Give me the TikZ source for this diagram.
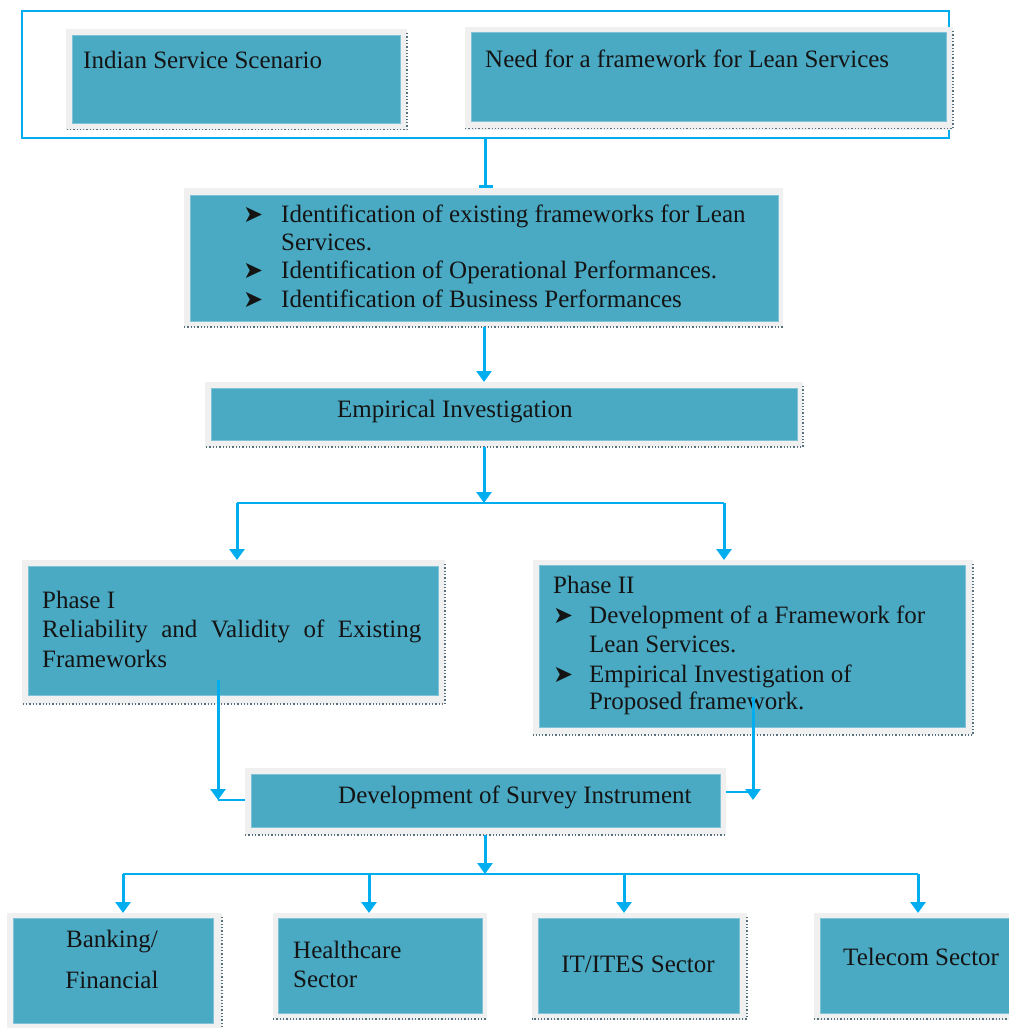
\documentclass[tikz,border=0pt]{standalone}
\usepackage{fontspec}
\setmainfont{Liberation Serif}
\newfontfamily\dingfont{DejaVu Sans}
\usetikzlibrary{arrows.meta,fit}

\definecolor{panelteal}{HTML}{4AAAC4}
\definecolor{panelrim}{HTML}{F0F0F0}
\definecolor{shadowdots}{HTML}{56707E}
\definecolor{linkblue}{HTML}{00AEEF}
\definecolor{inktext}{HTML}{141414}

\tikzset{
  rim/.style={fill=panelrim, inner sep=0pt, outer sep=0pt},
  core/.style={fill=panelteal, draw=panelteal!70!white, line width=0.8pt, inner sep=0pt},
  dots/.style={draw=shadowdots, line width=1.3pt, dotted},
  lbl/.style={inner sep=0pt, text=inktext, font=\fontsize{25}{29}\selectfont, anchor=base west},
  bul/.style={inner sep=0pt, text=inktext, font=\dingfont\fontsize{24}{24}\selectfont, anchor=base west},
  link/.style={draw=linkblue, line width=3pt},
  branch/.style={draw=linkblue, line width=2.2pt},
  arrowed/.style={-{Triangle[width=15pt,length=11pt]}},
}

% panel: name, rim corners, teal corners
\newcommand\leanpanel[9]{%
  \node[rim, fit={(#2,#3)(#4,#5)}] (#1) {};
  \node[core, fit={(#6,#7)(#8,#9)}] (#1-in) {};}

\begin{document}
\begin{tikzpicture}[x=1pt, y=-1pt]
\useasboundingbox (0,0) rectangle (1009,1028);
\clip (0,0) rectangle (1009,1028);

% outer frame round the two opening panels
\node[draw=linkblue, line width=2.2pt, inner sep=0pt, fit={(22,11)(949,138)}] (top) {};

% opening panels
\leanpanel{scen}{66}{29}{407}{130}{72}{35}{400}{123}
\draw[dots] (407,33) -- (407,129.5) -- (66,129.5);
\node[lbl] (scen-t) at (83,68) {Indian Service Scenario};

\leanpanel{need}{465}{27}{953}{130}{471}{32}{946}{121}
\draw[dots] (953,31) -- (953,128.5) -- (465,128.5);
\node[lbl] (need-t) at (485,67) {Need for a framework for Lean Services};

% identification panel
\leanpanel{ident}{184}{188}{783}{327}{190}{195}{778}{321}
\draw[dots] (184,327) -- (783,327);
\node[bul] (ib1) at (243,222) {➤};
\node[lbl] (it1) at (281,222) {Identification of existing frameworks for Lean};
\node[lbl] (it2) at (281,250) {Services.};
\node[bul] (ib2) at (243,278) {➤};
\node[lbl] (it3) at (281,278) {Identification of Operational Performances.};
\node[bul] (ib3) at (243,307) {➤};
\node[lbl] (it4) at (281,307) {Identification of Business Performances};

% empirical investigation
\leanpanel{emp}{205}{382}{803}{447}{211}{388}{797}{440}
\draw[dots] (803,386) -- (803,447) -- (205,447);
\node[lbl] (emp-t) at (337,417) {Empirical Investigation};

% phase I
\leanpanel{ph1}{22}{560}{445}{704}{28}{566}{438}{695}
\draw[dots] (445,564) -- (445,704) -- (22,704);
\node[lbl] (ph1-a) at (42,608) {Phase I};
\node[lbl] (ph1-b) at (42,637) {\makebox[379pt][s]{Reliability and Validity of Existing}};
\node[lbl] (ph1-c) at (42,667) {Frameworks};

% phase II
\leanpanel{ph2}{533}{560}{973}{735}{539}{565}{965}{727}
\draw[dots] (973,564) -- (973,735) -- (533,735);
\node[lbl] (ph2-a) at (553,593) {Phase II};
\node[bul] (pb1) at (553,623) {➤};
\node[lbl] (ph2-b) at (589,623) {Development of a Framework for};
\node[lbl] (ph2-c) at (589,652) {Lean Services.};
\node[bul] (pb2) at (553,682) {➤};
\node[lbl] (ph2-d) at (589,682) {Empirical Investigation of};
\node[lbl] (ph2-e) at (589,709) {Proposed framework.};

% survey instrument
\leanpanel{sv}{245}{768}{726}{835}{251}{774}{720}{827}
\draw[dots] (245,835) -- (726,835);
\node[lbl] (sv-t) at (338,803) {Development of Survey Instrument};

% sectors
\leanpanel{bank}{7}{913}{222}{1040}{13}{918}{213}{1023}
\draw[dots] (222,917) -- (222,1028);
\node[lbl, anchor=base] (bank-a) at (112,947) {Banking/};
\node[lbl, anchor=base] (bank-b) at (112,988) {Financial};

\leanpanel{hc}{273}{913}{487}{1020}{278}{918}{482}{1013}
\draw[dots] (273,1019) -- (487,1019);
\node[lbl] (hc-a) at (293,958) {Healthcare};
\node[lbl] (hc-b) at (293,987) {Sector};

\leanpanel{it}{532}{913}{747}{1020}{538}{918}{739}{1013}
\draw[dots] (747,917) -- (747,1019) -- (532,1019);
\node[lbl, anchor=base] (it-t) at (638,972) {IT/ITES Sector};

\leanpanel{tel}{814}{913}{1020}{1020}{820}{918}{1015}{1013}
\draw[dots] (814,1019) -- (1009,1019);
\node[lbl] (tel-t) at (843,965) {Telecom Sector};

% junction points of the connectors
\coordinate (fork1) at (484,503);
\coordinate (f1L) at (237,503);
\coordinate (f1R) at (724,503);
\coordinate (p1tail) at (218,680);
\coordinate (j1) at (218,800);
\coordinate (p2tail) at (753,697);
\coordinate (j2) at (753,800);
\coordinate (j2b) at (753,792);
\coordinate (fork2) at (485,874);
\coordinate (f2a) at (123,874);
\coordinate (f2b) at (369,874);
\coordinate (f2c) at (624,874);
\coordinate (f2d) at (918,874);

% connectors
\draw[link, -{Bar[width=14pt,line width=3pt]}] (top.south) -- (top.south |- ident.north);
\draw[link, arrowed] (fork1 |- ident.south) -- (fork1 |- emp.north);
\draw[link, arrowed] (fork1 |- emp.south) -- (fork1);
\draw[branch] (f1L) -- (f1R);
\draw[link, arrowed] (f1L) -- (f1L |- ph1.north);
\draw[link, arrowed] (f1R) -- (f1R |- ph2.north);

\draw[link, arrowed] (p1tail) -- (j1);
\draw[branch] (j1) -- (j1 -| sv.west);
\draw[link, arrowed] (p2tail) -- (j2);
\draw[branch] (j2b -| sv.east) -- (j2b);

\draw[link, arrowed] (fork2 |- sv.south) -- (fork2);
\draw[branch] (f2a) -- (f2d);
\draw[link, arrowed] (f2a) -- (f2a |- bank.north);
\draw[link, arrowed] (f2b) -- (f2b |- hc.north);
\draw[link, arrowed] (f2c) -- (f2c |- it.north);
\draw[link, arrowed] (f2d) -- (f2d |- tel.north);
\end{tikzpicture}
\end{document}
